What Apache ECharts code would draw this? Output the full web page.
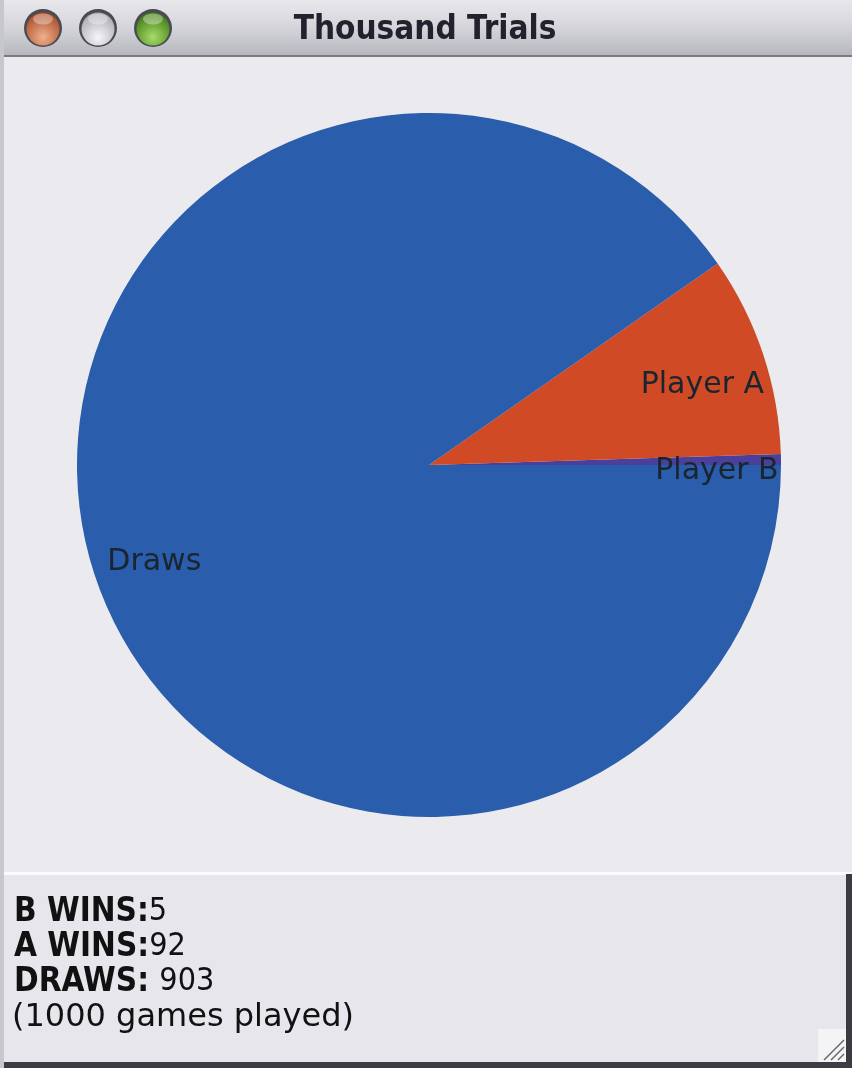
<!DOCTYPE html>
<html><head><meta charset="utf-8">
<script src="https://cdn.jsdelivr.net/npm/echarts@6/dist/echarts.min.js"></script>
<style>html,body{margin:0;padding:0;background:#ebebef;}#c{width:852px;height:1068px;}</style>
</head><body><div id="c"></div>
<script>
const windowTitle = 'Thousand Trials';
const categories = ['Player B', 'Player A', 'Draws'];
const values = [5, 92, 903];
const colors = ['#4b3f9c', '#d04a25', '#2a5dab'];
const summaryLabels = ['B WINS:', 'A WINS:', 'DRAWS: '];
const summaryValues = [5, 92, 903];
const totalText = '(1000 games played)';

const chart = echarts.init(document.getElementById('c'));
const data = categories.map((n, i) => ({name: n, value: values[i], itemStyle: {color: colors[i]}}));
const labelData = categories.map((n, i) => ({name: n, value: values[i]}));
const font = '"DejaVu Sans", Verdana, sans-serif';
const condFont = '"DejaVu Sans Condensed", "DejaVu Sans", sans-serif';

const graphics = [
  {type: 'rect', shape: {x: 0, y: 0, width: 852, height: 56}, z: 10,
   style: {fill: new echarts.graphic.LinearGradient(0, 0, 0, 1, [
     {offset: 0, color: '#e8e8ec'}, {offset: 0.5, color: '#d4d4da'}, {offset: 1, color: '#b6b6be'}])}},
  {type: 'rect', shape: {x: 0, y: 55, width: 852, height: 2}, z: 11, style: {fill: '#7a7a82'}},
  {type: 'rect', shape: {x: 0, y: 0, width: 4, height: 1068}, z: 11, style: {fill: '#c8c8cc'}},
  {type: 'text', x: 425, y: 30, z: 12, style: {text: windowTitle, font: 'bold 33px ' + condFont, fill: '#22222e', align: 'center', verticalAlign: 'middle'}},
];
const lights = [
  {x: 43, c1: '#f0b08e', c2: '#a84a26'},
  {x: 98, c1: '#f6f6fa', c2: '#a8a8b0'},
  {x: 153, c1: '#a8dc6a', c2: '#3c7a12'}
];
lights.forEach(l => {
  graphics.push({type: 'circle', z: 12, shape: {cx: l.x, cy: 28, r: 19}, style: {fill: '#4a4a52'}});
  graphics.push({type: 'circle', z: 13, shape: {cx: l.x, cy: 29, r: 16.5},
    style: {fill: new echarts.graphic.RadialGradient(0.5, 0.75, 0.75, [
      {offset: 0, color: l.c1}, {offset: 1, color: l.c2}])}});
  graphics.push({type: 'circle', x: l.x, y: 19, scaleX: 1, scaleY: 0.55, z: 14, shape: {cx: 0, cy: 0, r: 10},
    style: {fill: 'rgba(255,255,255,0.35)'}});
});
graphics.push({type: 'rect', shape: {x: 4, y: 872, width: 848, height: 196}, z: 10, style: {fill: '#e6e6ec'}});
graphics.push({type: 'rect', shape: {x: 4, y: 872, width: 848, height: 3}, z: 11, style: {fill: '#fbfbfd'}});
graphics.push({type: 'rect', shape: {x: 846, y: 874, width: 6, height: 194}, z: 11, style: {fill: '#3a3a40'}});
graphics.push({type: 'rect', shape: {x: 4, y: 1062, width: 848, height: 6}, z: 11, style: {fill: '#3c3c42'}});
[0, 1, 2].forEach((i, k) => {
  graphics.push({type: 'text', x: 14, y: 912 + k * 35, z: 12,
    style: {text: '{b|' + summaryLabels[i] + '}{n|' + summaryValues[i] + '}', verticalAlign: 'middle',
      rich: {b: {font: 'bold 33px ' + condFont, fill: '#111'}, n: {font: '32px ' + condFont, fill: '#111'}}}});
});
graphics.push({type: 'text', x: 12, y: 1018, z: 12, style: {text: totalText, font: '32px ' + font, fill: '#111', verticalAlign: 'middle'}});
graphics.push({type: 'rect', shape: {x: 818, y: 1029, width: 28, height: 33}, z: 12, style: {fill: '#f4f4f6'}});
[0, 1, 2].forEach(k => {
  graphics.push({type: 'line', z: 13, shape: {x1: 824 + k * 7, y1: 1060, x2: 844, y2: 1040 + k * 7}, style: {stroke: '#666', lineWidth: 1.5}});
});

chart.setOption({
  backgroundColor: '#ebebef',
  animation: false,
  graphic: graphics,
  series: [
    {type: 'pie', center: [429, 465], radius: [0, 352], startAngle: 0, clockwise: false,
     data: data, label: {show: false}, labelLine: {show: false}, silent: true,
     itemStyle: {borderWidth: 0}},
    {type: 'pie', center: [429, 465], radius: [218, 352], startAngle: 0, clockwise: false,
     data: labelData, silent: true, labelLine: {show: false},
     itemStyle: {color: 'rgba(0,0,0,0)'},
     label: {show: true, position: 'inside',
       formatter: p => '{s| }\n{t|' + p.name + '}',
       rich: {s: {fontSize: 1, lineHeight: 22}, t: {fontSize: 30, lineHeight: 36, color: '#1a2530', fontFamily: 'DejaVu Sans'}}}}
  ]
});
</script></body></html>
